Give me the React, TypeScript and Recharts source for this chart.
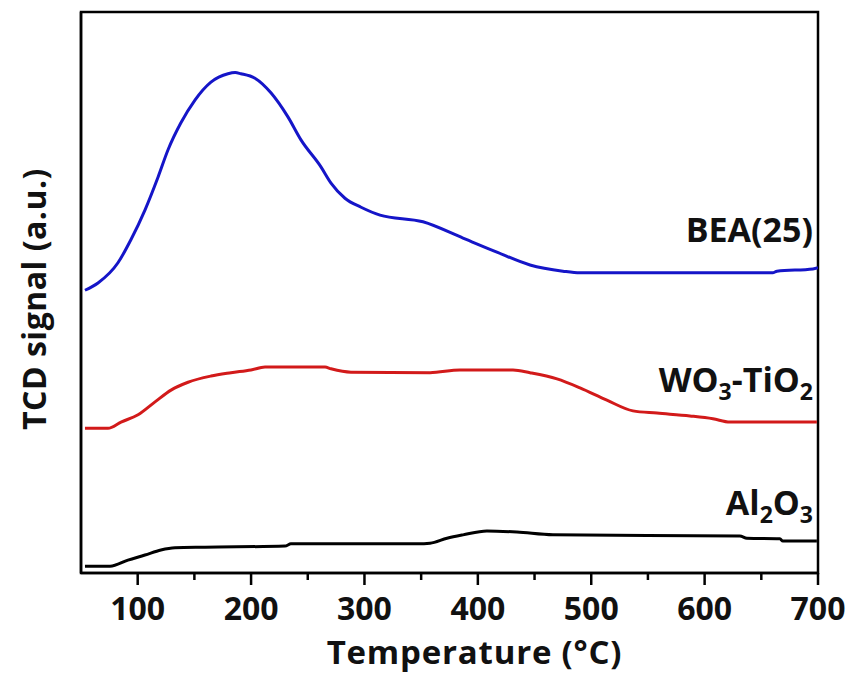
import React from "react";
import { LineChart, Line, XAxis, YAxis, ReferenceArea, Customized } from "recharts";

// TPD profiles (signal in a.u., stacked offsets included)
const beaTemp = [53.5, 65, 82.6, 94, 106.4, 118, 126.7, 138, 150.5, 164.6, 179.6, 186, 191, 203.4, 217.5, 232.5, 244, 261.6, 270.5, 282.8, 297, 313.7, 351.6, 386.9, 416.8, 446, 475, 490, 660, 663.8, 695.5, 700];
const beaSignal = [50.4, 51.7, 55.3, 59.4, 64.7, 70.6, 75.4, 80.2, 84.3, 87.5, 89.0, 89.2, 89.0, 88.2, 85.6, 81.3, 77.2, 72.4, 69.5, 66.8, 65.2, 63.8, 62.6, 59.7, 57.2, 54.9, 53.8, 53.5, 53.5, 53.8, 54.2, 54.4];

const wtTemp = [53.5, 73.8, 85.3, 100.3, 115.3, 129.4, 144.4, 164.6, 182.3, 199.9, 212.3, 265.2, 270.5, 288.1, 357.8, 384.2, 431, 446, 469.8, 490.1, 513.8, 536.8, 558, 587, 607.3, 622.3, 699];
const wtSignal = [25.8, 25.8, 26.9, 28.2, 30.5, 32.6, 34.0, 35.1, 35.7, 36.2, 36.7, 36.7, 36.4, 35.8, 35.7, 36.2, 36.2, 35.7, 34.6, 33.0, 30.8, 28.9, 28.5, 28.0, 27.5, 26.9, 26.9];

const alTemp = [53.5, 75.6, 91.4, 106.4, 120.5, 132.9, 159.3, 229.9, 235.2, 347.2, 357.8, 372.8, 386.9, 408, 434.5, 466.2, 631.1, 637.3, 666.4, 669, 699];
const alSignal = [1.2, 1.2, 2.3, 3.2, 4.1, 4.5, 4.6, 4.8, 5.2, 5.2, 5.3, 6.2, 6.8, 7.5, 7.3, 6.8, 6.6, 6.2, 6.1, 5.7, 5.7];

const xTicks = [100, 150, 200, 250, 300, 350, 400, 450, 500, 550, 600, 650, 700];

const toRows = (t: number[], s: number[]) => t.map((x, i) => ({ temp: x, signal: s[i] }));
const beaData = toRows(beaTemp, beaSignal);
const wtData = toRows(wtTemp, wtSignal);
const alData = toRows(alTemp, alSignal);

const FONT = "'Open Sans', sans-serif";

const TempTick = ({ x, y, payload }: any) => {
  const major = payload.value % 100 === 0;
  return (
    <g>
      <line x1={x} x2={x} y1={y} y2={y + (major ? 12 : 7)} stroke="#000" strokeWidth={2.5} />
      {major && (
        <text x={x} y={y + 47} textAnchor="middle" fontFamily={FONT} fontWeight={700} fontSize={32} fill="#111">
          {payload.value}
        </text>
      )}
    </g>
  );
};

const XTitle = ({ viewBox }: any) => (
  <text x={viewBox.x + viewBox.width / 2 + 25} y={viewBox.y + 91} textAnchor="middle"
    fontFamily={FONT} fontWeight={700} fontSize={33} letterSpacing={0.8} fill="#111">
    Temperature (°C)
  </text>
);

const YTitle = () => (
  <text x={0} y={0} transform="translate(46,299) rotate(-90)" textAnchor="middle"
    fontFamily={FONT} fontWeight={700} fontSize={32} letterSpacing={0.5} fill="#111">
    TCD signal (a.u.)
  </text>
);

const SeriesLabels = () => {
  const common = { fontFamily: FONT, fontWeight: 700, fontSize: 34, fill: "#111", textAnchor: "end" as const };
  const sub = { fontSize: 23, dy: 8 };
  return (
    <g>
      <text x={813} y={242} {...common}>BEA(25)</text>
      <text x={813} y={392} {...common}>
        WO<tspan {...sub}>3</tspan><tspan dy={-8}>-TiO</tspan><tspan {...sub}>2</tspan>
      </text>
      <text x={813} y={515} {...common}>
        Al<tspan {...sub}>2</tspan><tspan dy={-8}>O</tspan><tspan {...sub}>3</tspan>
      </text>
    </g>
  );
};

export default function App() {
  return (
    <div style={{ position: "absolute", left: 0, top: 0, background: "#fff" }}>
      <LineChart width={855} height={680} margin={{ top: 12, right: 37, left: 0, bottom: 0 }}>
        <XAxis
          dataKey="temp"
          type="number"
          domain={[50, 700]}
          ticks={xTicks}
          allowDataOverflow
          height={107}
          tickSize={0}
          tickMargin={0}
          tickLine={false}
          tick={<TempTick />}
          axisLine={{ stroke: "#000", strokeWidth: 2.5 }}
          label={{ value: "Temperature (°C)", content: <XTitle /> }}
        />
        <YAxis type="number" domain={[0, 100]} width={81} tick={false} tickLine={false}
          axisLine={{ stroke: "#000", strokeWidth: 2.5 }} />
        {/* box frame around the plot */}
        <ReferenceArea x1={50} x2={700} y1={0} y2={100} fill="none" stroke="#000" strokeWidth={2.5} ifOverflow="visible" />
        <Line data={beaData} dataKey="signal" type="monotone" stroke="#1515c8" strokeWidth={3} dot={false} isAnimationActive={false} />
        <Line data={wtData} dataKey="signal" type="monotone" stroke="#d21a1a" strokeWidth={3} dot={false} isAnimationActive={false} />
        <Line data={alData} dataKey="signal" type="monotone" stroke="#000" strokeWidth={3} dot={false} isAnimationActive={false} />
        <Customized component={<YTitle />} />
        <Customized component={<SeriesLabels />} />
      </LineChart>
    </div>
  );
}
